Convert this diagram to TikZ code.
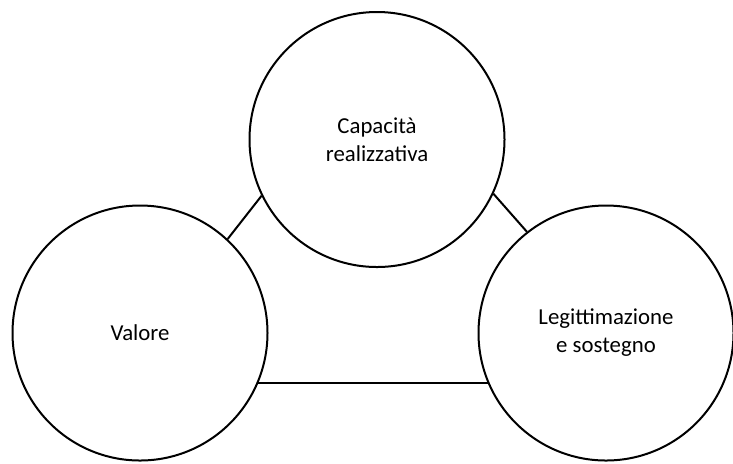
\documentclass[tikz,border=0pt]{standalone}
\usepackage{fontspec}
\setmainfont{Carlito}

\tikzset{bubble/.style={draw, circle, line width=1pt, minimum size=127.5pt, inner sep=0pt,
                        align=center, font=\fontsize{11.4}{14}\selectfont},
         link/.style={line width=1pt}}

\begin{document}
\begin{tikzpicture}[x=0.5pt, y=-0.5pt]
        \useasboundingbox (0,0) rectangle (733,463);

        \node[bubble] at (377, 139.5) (capacita)       {Capacità\\realizzativa};
        \node[bubble] at (140, 333.0) (valore)         {Valore};
        \node[bubble] at (606, 333.0) (legittimazione) {Legittimazione\\e sostegno};

        \draw[link] (valore.47)    -- (capacita.206);
        \draw[link] (capacita.335) -- (legittimazione.128.6);
        \draw[link] (valore.-23)   -- (legittimazione.-157);
    \end{tikzpicture}
\end{document}
